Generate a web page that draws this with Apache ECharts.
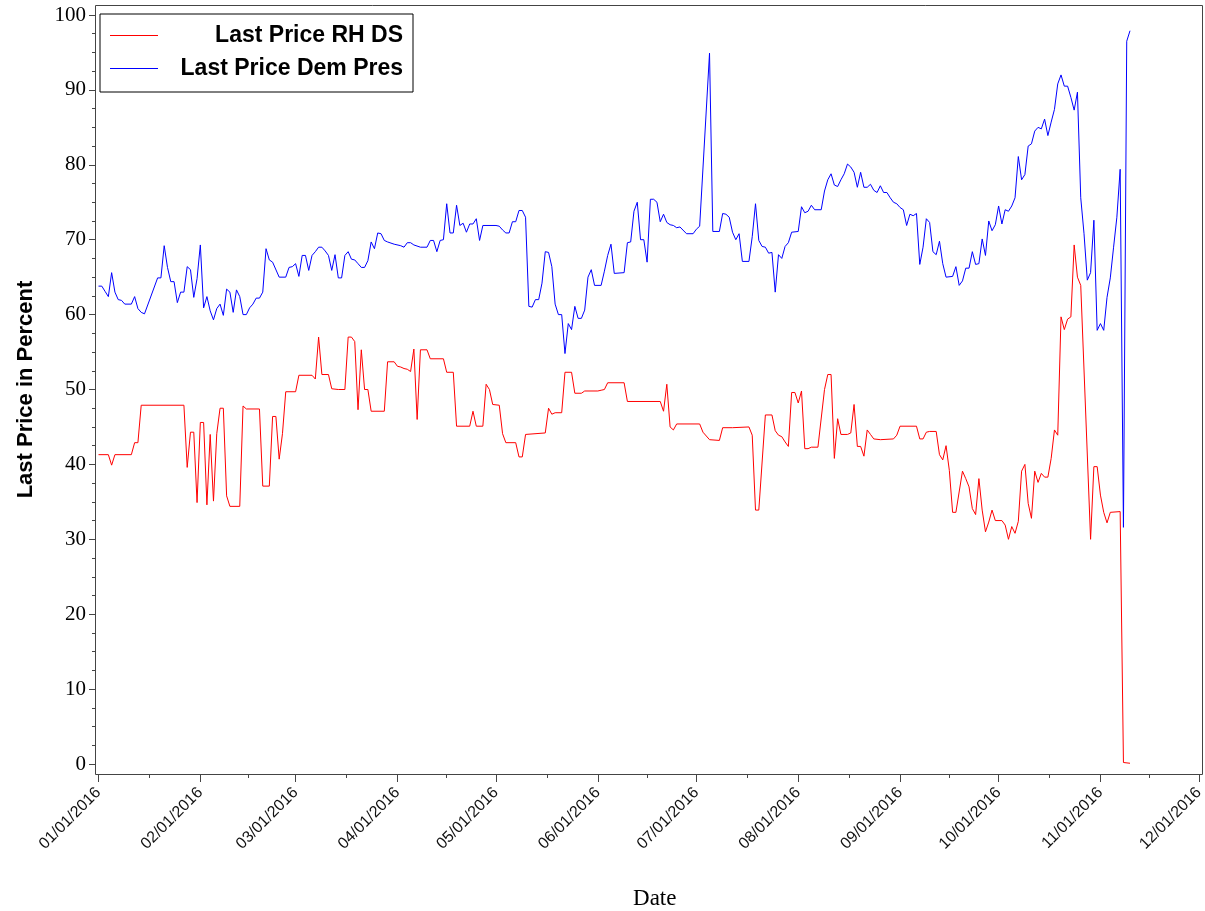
<!DOCTYPE html>
<html>
<head>
<meta charset="utf-8">
<script src="https://cdn.jsdelivr.net/npm/echarts@6/dist/echarts.min.js"></script>
<style>
html,body{margin:0;padding:0;background:#fff;}
#chart{width:1205px;height:911px;}
</style>
</head>
<body>
<div id="chart"></div>
<script>
// Days since 01/01/2016 and last prices (percent)
const blueName = 'Last Price Dem Pres';
const redName = 'Last Price RH DS';

const blueDays = [0,1,2,3,4,5,6,7,8,10,11,12,13,14,18,19,20,21,22,23,24,25,26,27,28,29,30,31,32,33,34,35,36,37,38,39,40,41,42,43,44,45,46,47,48,49,50,51,52,53,55,57,58,59,60,61,62,63,64,65,66,67,68,69,70,71,72,73,74,75,76,77,78,79,80,81,82,83,84,85,86,87,88,90,92,93,94,95,96,98,100,101,102,103,104,105,106,107,108,109,110,111,112,113,114,115,116,117,121,122,123,124,125,126,127,128,129,130,131,132,133,134,135,136,137,138,139,140,141,142,143,144,145,146,147,148,149,150,151,153,154,155,156,157,160,161,162,163,164,165,166,167,168,169,170,171,172,173,174,175,176,177,179,181,182,183,186,187,189,190,191,192,193,194,195,196,198,199,200,201,202,203,204,205,206,207,208,209,210,211,213,214,215,216,217,218,220,221,222,223,224,225,226,227,228,229,230,231,232,233,234,235,236,237,238,239,240,241,242,243,244,245,246,247,248,249,250,251,252,253,254,255,256,257,258,260,261,262,263,264,265,266,267,268,269,270,271,272,273,274,275,276,277,278,279,280,281,282,283,284,285,286,287,288,289,290,291,292,293,294,295,296,297,298,299,300,301,302,303,304,305,306,307,308,309,310,311,312,313,314];
const blueVals = [63.8,63.8,63.1,62.4,65.6,63.0,62.0,61.9,61.4,61.4,62.4,60.8,60.3,60.1,64.9,64.9,69.2,66.3,64.4,64.4,61.6,63.0,63.0,66.4,66.0,62.3,64.8,69.3,60.9,62.4,60.5,59.3,60.8,61.4,59.9,63.4,63.0,60.3,63.3,62.4,60.0,60.0,60.9,61.4,62.2,62.2,63.0,68.8,67.3,67.0,65.0,65.0,66.3,66.4,66.8,65.1,67.9,67.9,65.9,67.9,68.4,69.0,69.0,68.5,67.9,65.9,68.0,64.9,64.9,67.9,68.4,67.4,67.3,66.8,66.3,66.3,67.2,69.7,68.8,70.9,70.8,69.9,69.7,69.4,69.2,69.0,69.6,69.6,69.3,69.0,69.0,69.9,69.9,68.4,69.9,70.0,74.8,70.9,70.9,74.6,71.9,72.2,71.0,72.1,72.1,72.8,69.9,71.9,71.9,71.8,71.3,70.9,70.9,72.4,72.4,73.9,73.9,73.0,61.1,61.0,62.0,62.0,64.2,68.4,68.3,66.4,61.4,60.0,60.0,54.8,58.8,58.0,61.1,59.5,59.5,60.6,65.0,66.0,63.9,63.9,65.8,67.9,69.4,65.5,65.6,69.6,69.7,73.8,75.0,70.0,70.0,67.0,75.4,75.4,75.0,72.4,73.4,72.3,72.0,71.9,71.6,71.7,70.8,70.8,71.4,71.8,94.9,71.1,71.1,73.5,73.4,73.0,71.0,70.0,70.8,67.1,67.1,70.4,74.8,69.9,69.1,69.0,68.2,68.3,63.0,68.0,67.5,69.1,69.6,71.0,71.1,74.4,73.6,73.8,74.6,74.0,74.0,76.5,78.0,78.8,77.3,77.1,78.0,78.8,80.1,79.7,79.0,77.0,79.0,77.0,77.0,77.4,76.6,76.3,77.2,76.3,76.3,75.6,75.0,74.8,74.3,74.0,71.9,73.4,73.2,73.5,66.7,69.0,72.8,72.3,68.4,68.0,69.8,66.8,65.0,65.1,66.4,63.9,64.5,66.2,66.2,68.4,66.7,66.8,70.1,67.9,72.5,71.2,72.0,74.5,72.1,74.0,73.8,74.5,75.6,81.1,78.0,78.7,82.5,82.8,84.5,85.0,84.8,86.1,83.9,85.7,87.4,90.8,92.0,90.5,90.5,89.0,87.3,89.7,75.6,70.8,64.6,65.6,72.6,57.9,58.8,57.9,62.3,64.9,69.0,73.0,79.4,31.6,96.5,97.9];

const redDays = [0,3,4,5,10,11,12,13,26,27,28,29,30,31,32,33,34,35,36,37,38,39,40,43,44,45,49,50,52,53,54,55,56,57,60,61,65,66,67,68,70,71,73,75,76,77,78,79,80,81,82,83,87,88,90,91,92,93,94,95,96,97,98,100,101,105,106,108,109,113,114,115,117,118,119,120,122,123,124,127,128,129,130,136,137,138,139,141,142,144,145,147,148,152,153,154,155,160,161,171,172,173,174,175,176,183,184,186,189,190,193,198,199,200,201,203,205,206,207,208,209,210,211,212,213,214,215,216,217,219,221,222,223,224,225,226,228,229,230,231,232,233,234,235,236,238,242,243,244,249,250,251,252,253,255,256,257,258,259,260,261,263,264,265,266,267,268,269,270,271,272,273,275,276,277,278,279,280,281,282,283,284,285,286,287,288,289,290,291,292,293,294,295,296,297,298,299,302,303,304,305,306,307,308,311,312,314];
const redVals = [41.3,41.3,39.9,41.3,41.3,42.9,42.9,47.9,47.9,39.6,44.3,44.3,34.9,45.6,45.6,34.6,44.0,35.1,44.1,47.5,47.5,35.8,34.4,34.4,47.8,47.4,47.4,37.1,37.1,46.4,46.4,40.7,44.1,49.7,49.7,51.9,51.9,51.4,57.0,52.0,52.0,50.1,50.0,50.0,57.0,57.0,56.4,47.3,55.3,50.0,50.0,47.1,47.1,53.7,53.7,53.1,53.0,52.8,52.7,52.4,55.4,46.0,55.3,55.3,54.1,54.1,52.3,52.3,45.1,45.1,47.1,45.1,45.1,50.7,50.0,48.0,47.9,44.1,42.9,42.9,41.0,41.0,44.0,44.2,47.5,46.7,46.9,46.9,52.3,52.3,49.5,49.5,49.8,49.8,49.9,50.0,50.9,50.9,48.4,48.4,47.1,50.7,45.0,44.6,45.4,45.4,44.3,43.3,43.2,44.9,44.9,45.0,43.9,33.9,33.9,46.6,46.6,44.5,43.9,43.7,43.0,42.4,49.6,49.6,48.2,49.8,42.1,42.1,42.3,42.3,50.0,52.0,52.0,40.8,46.1,44.0,44.0,44.2,48.0,42.4,42.4,41.1,44.6,44.0,43.4,43.3,43.4,43.9,45.1,45.1,43.4,43.4,44.3,44.4,44.4,41.3,40.6,42.5,39.2,33.6,33.6,39.1,38.1,37.0,34.1,33.3,38.1,33.9,31.0,32.3,33.9,32.5,32.5,31.9,30.0,31.7,30.8,32.4,39.1,40.0,34.8,32.8,39.1,37.6,38.8,38.3,38.3,40.8,44.6,43.9,59.7,58.0,59.4,59.7,69.3,65.0,63.9,30.0,39.7,39.7,35.9,33.6,32.2,33.6,33.7,0.2,0.1];

const yTicks = [0,10,20,30,40,50,60,70,80,90,100];

function toTime(d){ return new Date(2016, 0, 1 + d).getTime(); }
function pad(n){ return (n < 10 ? '0' : '') + n; }

const chart = echarts.init(document.getElementById('chart'), null, {renderer: 'canvas'});
const option = {
  animation: false,
  backgroundColor: '#fff',
  grid: {left: 98.5, right: 6, top: 15, bottom: 147, containLabel: false, outerBoundsMode: 'none'},
  legend: {
    left: 100, top: 14, orient: 'vertical',
    padding: [10, 10, 12, 10], itemGap: 10, itemWidth: 48, itemHeight: 1,
    icon: 'rect',
    borderColor: '#000', borderWidth: 1,
    data: [redName, blueName],
    formatter: function(n){ return '{t|' + n + '}'; },
    textStyle: {
      rich: {t: {width: 240, align: 'right', fontSize: 23, fontWeight: 'bold',
                 fontFamily: 'Liberation Sans, Arial, sans-serif', color: '#000', lineHeight: 23}}
    }
  },
  graphic: [{
    type: 'rect', silent: true, z: 100,
    shape: {x: 95.5, y: 5.5, width: 1107, height: 769},
    style: {fill: 'none', stroke: '#444', lineWidth: 1}
  }],
  xAxis: {
    type: 'time',
    min: toTime(0), max: new Date(2016, 11, 1).getTime(),
    splitNumber: 11,
    offset: 10,
    name: 'Date', nameLocation: 'middle', nameGap: 113,
    nameTextStyle: {fontFamily: 'Liberation Serif, Times New Roman, serif', fontSize: 23, color: '#000', padding: [0, 0, 0, 12]},
    axisLine: {show: true, onZero: false, lineStyle: {color: '#444', width: 1}},
    axisTick: {show: true, length: 8, lineStyle: {color: '#444'}},
    minorTick: {show: true, splitNumber: 2, length: 4, lineStyle: {color: '#444'}},
    splitLine: {show: false},
    axisLabel: {
      rotate: 45, margin: 16, fontSize: 16, color: '#111',
      fontFamily: 'Liberation Sans, Arial, sans-serif',
      hideOverlap: false, showMinLabel: true, showMaxLabel: true,
      formatter: function(v){ const d = new Date(v); return pad(d.getMonth()+1) + '/' + pad(d.getDate()) + '/' + d.getFullYear(); }
    }
  },
  yAxis: {
    type: 'value', min: yTicks[0], max: yTicks[yTicks.length-1], interval: 10,
    offset: 3.5,
    name: 'Last Price in Percent', nameLocation: 'middle', nameGap: 58, nameRotate: 90,
    nameTextStyle: {fontFamily: 'Liberation Sans, Arial, sans-serif', fontWeight: 'bold', fontSize: 22, color: '#000'},
    axisLine: {show: true, onZero: false, lineStyle: {color: '#444', width: 1}},
    axisTick: {show: true, length: 6, lineStyle: {color: '#444'}},
    minorTick: {show: true, splitNumber: 4, length: 3, lineStyle: {color: '#444'}},
    splitLine: {show: false},
    axisLabel: {margin: 9, fontSize: 21, color: '#000', fontFamily: 'Liberation Serif, Times New Roman, serif'}
  },
  series: [
    {name: redName, type: 'line', symbol: 'none', showSymbol: false,
     lineStyle: {color: '#ff0000', width: 1}, itemStyle: {color: '#ff0000'},
     data: redDays.map(function(d, i){ return [toTime(d), redVals[i]]; })},
    {name: blueName, type: 'line', symbol: 'none', showSymbol: false,
     lineStyle: {color: '#0000ff', width: 1}, itemStyle: {color: '#0000ff'},
     data: blueDays.map(function(d, i){ return [toTime(d), blueVals[i]]; })}
  ]
};
chart.setOption(option);
</script>
</body>
</html>
